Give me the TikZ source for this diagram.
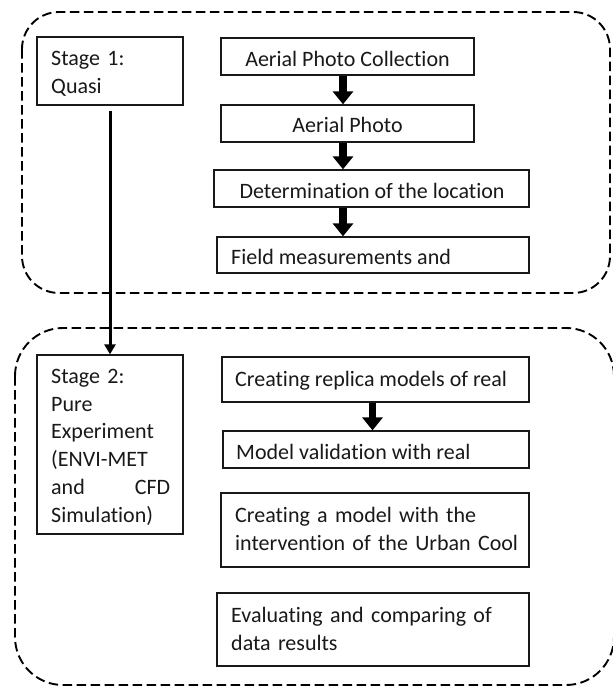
\documentclass[tikz,border=0pt]{standalone}
\usepackage{fontspec}
\setmainfont{Carlito}[Ligatures=NoCommon]
\usetikzlibrary{arrows.meta}
\newcommand\mystrut{\rule{0pt}{18pt}}
\begin{document}
\begin{tikzpicture}[x=1pt,y=-1pt,
  box/.style={draw=black!90, line width=1.3pt, rectangle, inner sep=0pt},
  region/.style={draw=black, line width=1.9pt, dash pattern=on 9.5pt off 4.5pt},
  txtone/.style={inner sep=0pt, font=\fontsize{22}{27.8}\selectfont, text=black!90},
  txtmulti/.style={inner sep=0pt, font=\fontsize{22}{27.8}\selectfont, text=black!90, align=left, anchor=north west},
  blockarrow/.style={line width=7.5pt, -{Triangle[width=20pt,length=13pt]}},
  stagearrow/.style={line width=3pt, -{Triangle[width=11pt,length=10pt]}}]

\useasboundingbox (0,0) rectangle (613,686);
\fill[white] (0,0) rectangle (613,686);

% dashed regions
\draw[region, rounded corners=37pt] (22,12) rectangle (610,293);
\draw[region, rounded corners=48pt] (15,328) rectangle (614,685);

% stage 1 region boxes
\node[box, minimum width=146pt, minimum height=68pt] (s1) at (110,71) {};
\node[box, minimum width=253pt, minimum height=37pt] (a1) at (347.5,56.5) {};
\node[box, minimum width=253pt, minimum height=37pt] (a2) at (347.5,123.5) {};
\node[box, minimum width=315pt, minimum height=37pt] (a3) at (371.5,188.5) {};
\node[box, minimum width=312pt, minimum height=36pt] (a4) at (373,255) {};

% stage 2 region boxes
\node[box, minimum width=146pt, minimum height=179pt] (s2) at (110,444.5) {};
\node[box, minimum width=307pt, minimum height=45pt] (b1) at (375.5,379.5) {};
\node[box, minimum width=306pt, minimum height=37pt] (b2) at (376,449.5) {};
\node[box, minimum width=308pt, minimum height=74pt] (b3) at (375,530) {};
\node[box, minimum width=312pt, minimum height=73pt] (b4) at (373,629.5) {};

% texts
\node[txtmulti, text width=125pt] (ts1) at (51,47.5) {\mystrut Stage 1:\\Quasi};
\node[txtone, anchor=base] (ta1) at (347.5,66) {Aerial Photo Collection};
\node[txtone, anchor=base] (ta2) at (347.5,132) {Aerial Photo};
\node[txtone, anchor=base] (ta3) at (372,198.5) {Determination of the location};
\node[txtone, anchor=base west] (ta4) at (231,264.5) {Field measurements and};

\node[txtmulti, text width=119pt] (ts2) at (51,365) {\mystrut Stage 2:\\Pure\\Experiment\\(ENVI-MET\\and\hfill CFD\\Simulation)};
\node[txtone, anchor=base west] (tb1) at (235,386) {Creating replica models of real};
\node[txtone, anchor=base west] (tb2) at (236,459) {Model validation with real};
\node[txtmulti, text width=290pt] (tb3) at (235,504) {\mystrut Creating a model with the\\intervention of the Urban Cool};
\node[txtmulti, text width=290pt] (tb4) at (231,604) {\mystrut Evaluating and comparing of\\data results};

% connectors
\draw[blockarrow] ([xshift=-4.5pt]a1.south) -- ([xshift=-4.5pt]a2.north);
\draw[blockarrow] ([xshift=-4.5pt]a2.south) -- ([xshift=-28.5pt]a3.north);
\draw[blockarrow] ([xshift=-28.5pt]a3.south) -- ([xshift=-30pt]a4.north);
\draw[blockarrow] ([xshift=-3pt]b1.south) -- ([xshift=-3.5pt]b2.north);
\draw[stagearrow] ([yshift=-5pt]s1.south) -- (s2.north);
\end{tikzpicture}
\end{document}
